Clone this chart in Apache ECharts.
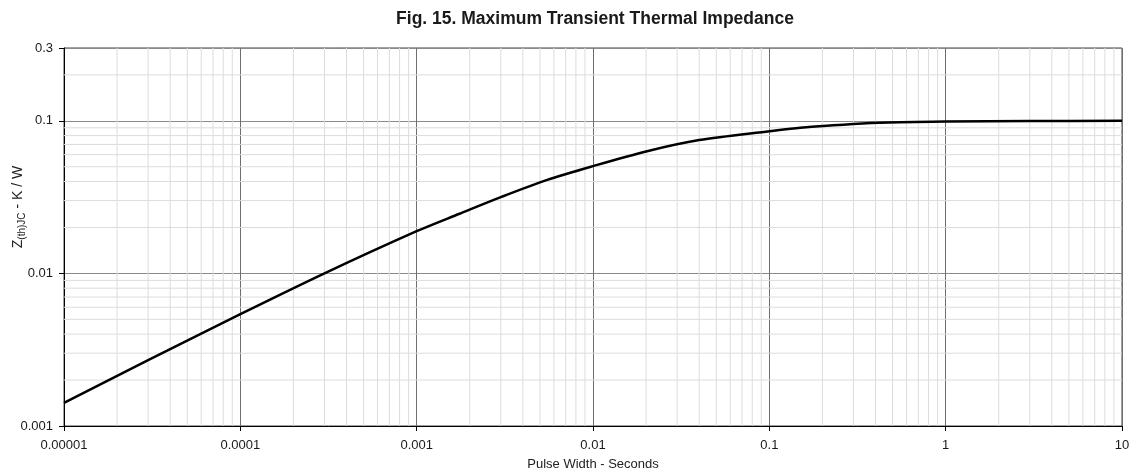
<!DOCTYPE html>
<html>
<head>
<meta charset="utf-8">
<script src="https://cdn.jsdelivr.net/npm/echarts@6/dist/echarts.min.js"></script>
<style>
  html, body { margin: 0; padding: 0; background: #ffffff; }
  #chart { width: 1131px; height: 473px; }
</style>
</head>
<body>
<div id="chart"></div>
<script>
// Pulse width (s) and maximum transient thermal impedance Z(th)JC (K/W)
const pulseWidth = [0.00001, 0.00003, 0.0001, 0.0003, 0.001, 0.00175, 0.003, 0.0055, 0.01, 0.02, 0.04, 0.1, 0.15, 0.42, 1, 3, 10];
const impedance  = [0.00142, 0.0027, 0.0054, 0.0100, 0.0189, 0.0246, 0.0316, 0.0410, 0.0505, 0.0630, 0.0748, 0.0855, 0.0902, 0.0972, 0.0988, 0.0996, 0.0999];

// Axis decades (major ticks) and axis limits
const xDecades = [0.00001, 0.0001, 0.001, 0.01, 0.1, 1];
const yDecades = [0.001, 0.01, 0.1];
const xMin = 0.00001, xMax = 10;
const yMin = 0.001, yMax = 0.3;

const FONT = '"Liberation Sans", Arial, sans-serif';

// Minor gridline positions: 2..9 within every decade
function minorSteps(decades, limit) {
  const out = [];
  decades.forEach(d => {
    for (let m = 2; m <= 9; m++) {
      const v = parseFloat((d * m).toPrecision(3));
      if (v < limit) out.push(v);
    }
  });
  return out;
}
const xMinor = minorSteps(xDecades, xMax);
const yMinor = minorSteps(yDecades, yMax);

// Minor grid as one broken polyline: each line is two points followed by a gap
const minorGrid = [];
xMinor.forEach(v => { minorGrid.push([v, yMin], [v, yMax], [v, null]); });
yMinor.forEach(v => { minorGrid.push([xMin, v], [xMax, v], [xMax, null]); });

function fmt(v) { return String(parseFloat(Number(v).toPrecision(4))); }

const chart = echarts.init(document.getElementById('chart'), null, { renderer: 'canvas' });

chart.setOption({
  animation: false,
  backgroundColor: '#ffffff',
  title: {
    text: 'Fig. 15. Maximum Transient Thermal Impedance',
    left: 590, top: 5, textAlign: 'center',
    textStyle: { fontFamily: FONT, fontSize: 17.5, fontWeight: 'bold', color: '#1a1a1a' }
  },
  grid: {
    left: 64, right: 9, top: 48, bottom: 47,
    outerBoundsMode: 'none', containLabel: false,
    show: true, borderColor: '#444', borderWidth: 1
  },
  xAxis: {
    type: 'log', logBase: 10, min: xMin, max: xMax,
    name: 'Pulse Width - Seconds',
    nameLocation: 'middle', nameGap: 32, nameMoveOverlap: false,
    nameTextStyle: { fontFamily: FONT, fontSize: 13, color: '#222' },
    axisLine: { show: true, lineStyle: { color: '#000', width: 1 } },
    axisTick: { show: true, inside: false, length: 5, lineStyle: { color: '#000' } },
    axisLabel: { fontFamily: FONT, fontSize: 13, color: '#1a1a1a', margin: 13, formatter: fmt },
    splitLine: { show: true, lineStyle: { color: '#6e6e6e', width: 1 } }
  },
  yAxis: {
    type: 'log', logBase: 10, min: yMin, max: yMax,
    axisLine: { show: true, lineStyle: { color: '#000', width: 1 } },
    axisTick: { show: true, inside: false, length: 5, lineStyle: { color: '#000' } },
    axisLabel: { fontFamily: FONT, fontSize: 13, color: '#1a1a1a', margin: 11, formatter: fmt },
    splitLine: { show: true, lineStyle: { color: '#8a8a8a', width: 1 } }
  },
  graphic: [{
    type: 'text',
    x: 18, y: 207,
    rotation: Math.PI / 2,
    style: {
      text: '{z|Z}{s|(th)JC}{z| - K / W}',
      align: 'center', verticalAlign: 'middle',
      fill: '#222',
      rich: {
        z: { fontFamily: FONT, fontSize: 14, fill: '#222', lineHeight: 18, verticalAlign: 'middle' },
        s: { fontFamily: FONT, fontSize: 10, fill: '#222', lineHeight: 18, verticalAlign: 'bottom', padding: [7, 0, 0, 0] }
      }
    }
  }],
  series: [
    {
      // light minor gridlines
      type: 'line', z: 1, silent: true,
      data: minorGrid, connectNulls: false,
      showSymbol: false, symbol: 'none',
      lineStyle: { color: '#dcdcdc', width: 1 }
    },
    {
      type: 'line', z: 5,
      data: pulseWidth.map((x, i) => [x, impedance[i]]),
      showSymbol: false, symbol: 'none', smooth: 0.3,
      lineStyle: { color: '#000', width: 2.5 }
    }
  ]
});
</script>
</body>
</html>
